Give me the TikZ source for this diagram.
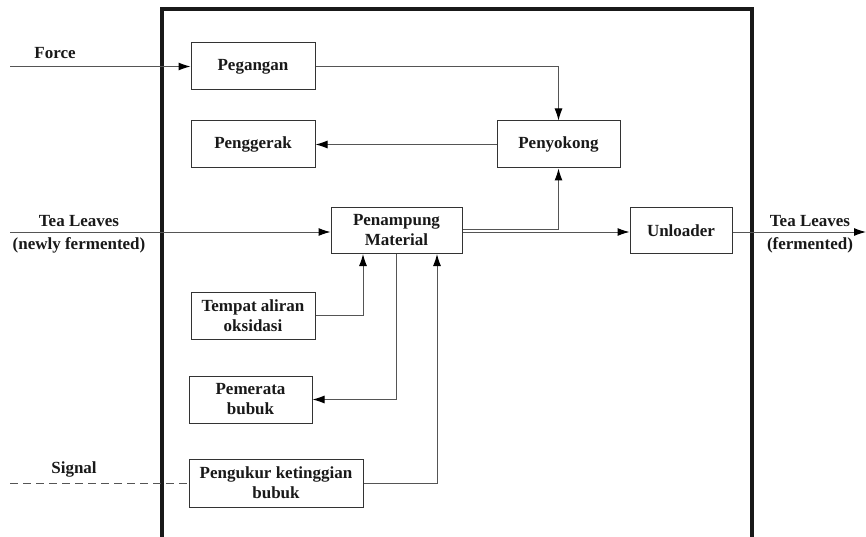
\documentclass[tikz,border=0pt]{standalone}
\usepackage{fontspec}
\setmainfont{Liberation Serif}
\usetikzlibrary{arrows.meta}
\definecolor{lineGrey}{HTML}{555555}
\definecolor{boxGrey}{HTML}{333333}

\begin{document}
\begin{tikzpicture}[%%
  x=1pt,y=-1pt,%%
  font=\fontsize{17}{20}\selectfont\bfseries,%%
  text=black!90,%%
  boxStyle/.style={draw=boxGrey,line width=1pt,inner sep=0pt,align=center},%%
  lineStyle/.style={draw=lineGrey,line width=1pt},%%
  arrowStyle/.style={lineStyle,-{Latex[length=12pt,width=8pt,color=black]}},%%
  signalStyle/.style={lineStyle,dash pattern=on 8pt off 5pt},%%
  systemStyle/.style={draw=black!90,line width=3.5pt}%%
]
%%
%% Page size of the reference.
\useasboundingbox (0,0) rectangle (866,537);
%%
%% The system boundary.
\draw[systemStyle] (162,9) rectangle (752,560);
%%
%% The blocks inside the system.
\node[boxStyle,minimum width=124,minimum height=47] (pegangan)  at (253,66.5)  {Pegangan};
\node[boxStyle,minimum width=124,minimum height=47] (penggerak) at (253,144.5) {Penggerak};
\node[boxStyle,minimum width=123,minimum height=47] (penyokong) at (558.5,144.5) {Penyokong};
\node[boxStyle,minimum width=131,minimum height=46] (penampung) at (396.5,230.5) {Penampung\\Material};
\node[boxStyle,minimum width=102,minimum height=46] (unloader)  at (681,230.5) {Unloader};
\node[boxStyle,minimum width=124,minimum height=47] (tempat)    at (253,315.5) {Tempat aliran\\oksidasi};
\node[boxStyle,minimum width=123,minimum height=47] (pemerata)  at (250.5,399.5) {Pemerata\\bubuk};
\node[boxStyle,minimum width=174,minimum height=48] (pengukur)  at (276,483) {Pengukur ketinggian\\bubuk};
%%
%% Inputs and outputs.
\coordinate (forceIn)  at (10,66.5);
\coordinate (teaIn)    at (10,232);
\coordinate (teaOut)   at (866,232);
\coordinate (signalIn) at (10,483);
\node (forceLbl)   at (55,53)   {Force};
\node (teaInLbl)   at (79,221)  {Tea Leaves};
\node (newlyLbl)   at (79,245)  {(newly fermented)};
\node (teaOutLbl)  at (810,221) {Tea Leaves};
\node (fermLbl)    at (810,245) {(fermented)};
\node (signalLbl)  at (74,469)  {Signal};
%%
%% Connectors.
\draw[arrowStyle]  (forceIn) -- (pegangan.west);
\draw[arrowStyle]  (teaIn) -- (teaIn -| penampung.west);
\draw[signalStyle] (signalIn) -- (pengukur.west);
\draw[arrowStyle]  (pegangan.east) -| (penyokong.north);
\draw[arrowStyle]  (penyokong.west) -- (penggerak.east);
\draw[arrowStyle]  ([yshift=1.5pt]penampung.east) -| (penyokong.south);
\draw[arrowStyle]  ([yshift=-1.5pt]penampung.east) -- ([yshift=-1.5pt]unloader.west);
\draw[arrowStyle]  ([yshift=-1.5pt]unloader.east) -- (teaOut);
\draw[arrowStyle]  (tempat.east) -| ([xshift=-33.5pt]penampung.south);
\draw[arrowStyle]  (penampung.south) |- (pemerata.east);
\draw[arrowStyle]  (pengukur.east) -| ([xshift=40.5pt]penampung.south);
\end{tikzpicture}
\end{document}
